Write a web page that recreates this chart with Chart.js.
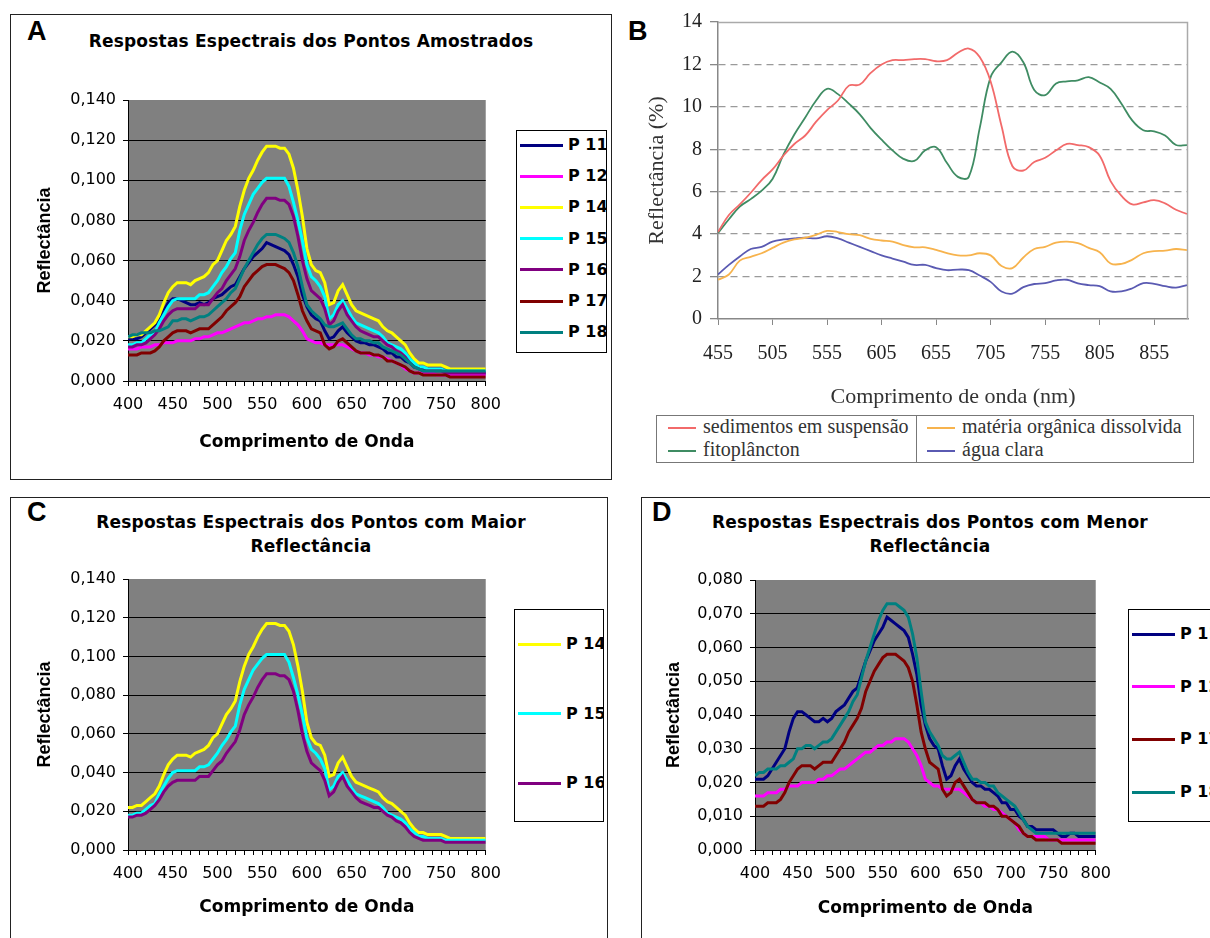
<!DOCTYPE html>
<html>
<head>
<meta charset="utf-8">
<script src="https://cdn.jsdelivr.net/npm/chart.js@4.4.1/dist/chart.umd.min.js"></script>
<style>
  body { margin: 0; background: #fff; }
  #page { position: relative; width: 1210px; height: 938px; overflow: hidden; background: #fff; }
  .box { position: absolute; border: 1px solid #222; }
  canvas { position: absolute; }
  .letter { position: absolute; font: bold 27px "Liberation Sans", Arial, sans-serif; line-height: 27px; color: #000; }
  .title { position: absolute; text-align: center; font: bold 17px "DejaVu Sans", sans-serif; line-height: 24px; letter-spacing: 0.2px; color: #000; white-space: nowrap; }
  .legend { position: absolute; border: 1px solid #000; background: #fff; overflow: hidden; }
  .legend .sw { position: absolute; height: 3px; }
  .legend .lb { position: absolute; font: bold 16px "DejaVu Sans", sans-serif; line-height: 16px; white-space: nowrap; color: #000; }
  #legB { position: absolute; left: 656px; top: 415px; width: 536px; height: 46px; border: 1.5px solid #777; background: #fff;
          font: 20px "Liberation Serif", "Times New Roman", serif; color: #333; }
  #legB .sep { position: absolute; left: 259px; top: 0; width: 0; height: 46px; border-left: 1.5px solid #777; }
  #legB .sw { position: absolute; height: 2px; }
  #legB .lb { position: absolute; line-height: 20px; white-space: nowrap; }
</style>
</head>
<body>
<div id="page">
  <div class="box" style="left:10px;top:14px;width:600px;height:464px"></div>
  <div class="box" style="left:10px;top:497px;width:596px;height:460px"></div>
  <div class="box" style="left:641px;top:497px;width:600px;height:460px"></div>

  <div class="letter" style="left:27px;top:18px">A</div>
  <div class="letter" style="left:628px;top:18px">B</div>
  <div class="letter" style="left:27px;top:499px">C</div>
  <div class="letter" style="left:652px;top:499px">D</div>

  <div class="title" style="left:11px;top:29px;width:600px">Respostas Espectrais dos Pontos Amostrados</div>
  <div class="title" style="left:11px;top:510px;width:600px">Respostas Espectrais dos Pontos com Maior<br>Reflectância</div>
  <div class="title" style="left:630px;top:510px;width:600px">Respostas Espectrais dos Pontos com Menor<br>Reflectância</div>

  <canvas id="cA" width="510" height="470" style="left:0;top:0"></canvas>
  <canvas id="cB" width="596" height="420" style="left:614px;top:0"></canvas>
  <canvas id="cC" width="510" height="448" style="left:0;top:490px"></canvas>
  <canvas id="cD" width="480" height="448" style="left:640px;top:490px"></canvas>

  <div class="legend" id="legA" style="left:516px;top:130px;width:89px;height:221px"></div>
  <div class="legend" id="legC" style="left:514px;top:609px;width:88px;height:211px"></div>
  <div class="legend" id="legD" style="left:1128px;top:609px;width:100px;height:211px"></div>
  <div id="legB"><div class="sep"></div></div>
</div>

<script>
// comprimentos de onda (nm) dos paineis A, C e D
const wl = [400,405,410,415,420,425,430,435,440,445,450,455,460,465,470,475,480,485,490,495,
            500,505,510,515,520,525,530,535,540,545,550,555,560,565,570,575,580,585,590,595,
            600,605,610,615,620,625,630,635,640,645,650,655,660,665,670,675,680,685,690,695,
            700,705,710,715,720,725,730,735,740,745,750,755,760,765,770,775,780,785,790,795,800];

// reflectancia dos pontos amostrados
const p11 = [.021,.021,.021,.022,.024,.026,.028,.030,.035,.039,.041,.041,.040,.039,.038,.038,.039,.038,.039,.041,
             .042,.043,.045,.047,.048,.052,.056,.059,.062,.064,.066,.069,.068,.067,.066,.065,.063,.058,.052,.043,
             .037,.033,.031,.030,.025,.021,.022,.025,.027,.024,.022,.020,.019,.019,.018,.018,.017,.016,.014,.014,
             .012,.012,.010,.009,.007,.007,.006,.006,.006,.006,.006,.005,.004,.004,.005,.005,.004,.004,.004,.004,.004];
const p12 = [.016,.016,.016,.017,.017,.017,.018,.018,.019,.019,.019,.020,.020,.020,.020,.021,.021,.022,.022,.023,
             .024,.024,.025,.026,.027,.028,.029,.029,.030,.031,.031,.032,.032,.033,.033,.033,.032,.030,.028,.025,
             .021,.020,.019,.019,.018,.018,.018,.018,.018,.017,.016,.015,.014,.014,.013,.013,.012,.012,.011,.010,
             .009,.008,.006,.005,.004,.004,.004,.004,.004,.003,.003,.003,.003,.003,.003,.003,.003,.003,.003,.003,.003];
const p14 = [.022,.022,.023,.023,.025,.027,.029,.033,.039,.044,.047,.049,.049,.049,.048,.050,.051,.052,.054,.058,
             .060,.065,.070,.073,.077,.087,.095,.101,.105,.110,.114,.117,.117,.117,.116,.116,.113,.106,.095,.082,
             .066,.058,.055,.054,.049,.038,.039,.045,.048,.043,.038,.035,.034,.033,.032,.031,.030,.027,.025,.024,
             .022,.020,.018,.014,.011,.009,.009,.008,.008,.008,.008,.007,.006,.006,.006,.006,.006,.006,.006,.006,.006];
const p15 = [.018,.018,.019,.019,.021,.023,.024,.029,.033,.037,.040,.041,.041,.041,.041,.041,.043,.043,.044,.047,
             .050,.054,.057,.061,.064,.075,.083,.088,.093,.096,.099,.101,.101,.101,.101,.101,.097,.089,.080,.070,
             .058,.052,.050,.047,.042,.031,.033,.038,.040,.036,.032,.029,.028,.027,.026,.025,.024,.022,.019,.018,
             .017,.016,.014,.011,.009,.007,.007,.006,.006,.006,.006,.005,.005,.005,.005,.005,.005,.005,.005,.005,.005];
const p16 = [.017,.017,.018,.018,.019,.021,.023,.026,.030,.033,.035,.036,.036,.036,.036,.036,.038,.038,.038,.041,
             .044,.046,.050,.053,.056,.062,.070,.075,.079,.084,.088,.091,.091,.091,.090,.090,.088,.082,.072,.060,
             .051,.045,.043,.041,.036,.028,.030,.035,.038,.033,.030,.027,.025,.024,.023,.022,.022,.020,.018,.017,
             .015,.014,.012,.009,.007,.006,.005,.005,.005,.005,.005,.004,.004,.004,.004,.004,.004,.004,.004,.004,.004];
const p17 = [.013,.013,.013,.014,.014,.014,.015,.017,.020,.022,.024,.025,.025,.025,.024,.025,.026,.026,.026,.028,
             .030,.032,.035,.037,.039,.042,.047,.050,.053,.055,.057,.058,.058,.058,.057,.056,.054,.050,.043,.035,
             .030,.026,.025,.024,.018,.016,.017,.020,.021,.019,.017,.015,.014,.014,.014,.013,.013,.012,.010,.010,
             .009,.008,.007,.005,.004,.004,.003,.003,.003,.003,.003,.003,.002,.002,.002,.002,.002,.002,.002,.002,.002];
const p18 = [.022,.023,.023,.024,.024,.024,.025,.025,.026,.027,.030,.030,.031,.031,.030,.031,.032,.032,.033,.035,
             .037,.039,.041,.044,.046,.051,.056,.060,.064,.068,.071,.073,.073,.073,.072,.071,.069,.064,.057,.047,
             .038,.035,.033,.031,.028,.027,.027,.028,.029,.026,.023,.021,.021,.020,.020,.019,.019,.017,.016,.015,
             .014,.013,.011,.009,.007,.006,.005,.005,.005,.005,.005,.005,.005,.005,.005,.005,.005,.005,.005,.005,.005];

const xLabels = [400, 450, 500, 550, 600, 650, 700, 750, 800];
const yTicksAC = [0, 0.02, 0.04, 0.06, 0.08, 0.10, 0.12, 0.14];
const yTicksD = [0, 0.01, 0.02, 0.03, 0.04, 0.05, 0.06, 0.07, 0.08];

const namesA = ['P 11', 'P 12', 'P 14', 'P 15', 'P 16', 'P 17', 'P 18'];
const seriesA = [p11, p12, p14, p15, p16, p17, p18];
const colorsA = ['#000080', '#ff00ff', '#ffff00', '#00ffff', '#800080', '#800000', '#008080'];
const namesC = ['P 14', 'P 15', 'P 16'];
const seriesC = [p14, p15, p16];
const colorsC = ['#ffff00', '#00ffff', '#800080'];
const namesD = ['P 11', 'P 12', 'P 17', 'P 18'];
const seriesD = [p11, p12, p17, p18];
const colorsD = ['#000080', '#ff00ff', '#800000', '#008080'];

// painel B: curvas tipicas (%)
const wlB = [455,465,475,485,495,505,515,525,535,545,555,565,575,585,595,605,615,625,635,645,655,
             665,675,685,695,705,715,725,735,745,755,765,775,785,795,805,815,825,835,845,855,865,875,885];
const sedimentos = [4.1,4.9,5.4,5.95,6.55,7.05,7.7,8.25,8.65,9.3,9.85,10.3,11.0,11.05,11.6,12.0,12.2,12.2,12.25,12.25,12.15,
                    12.2,12.55,12.75,12.35,11.2,9.1,7.2,7.0,7.4,7.6,7.95,8.25,8.2,8.1,7.7,6.5,5.8,5.4,5.5,5.6,5.45,5.15,4.95];
const fitoplancton = [4.05,4.7,5.3,5.65,6.05,6.6,7.75,8.7,9.5,10.3,10.85,10.6,10.15,9.65,9.0,8.45,7.95,7.55,7.45,7.95,8.1,
                      7.35,6.7,6.7,9.0,11.4,12.1,12.6,12.1,10.8,10.55,11.1,11.2,11.25,11.4,11.15,10.85,10.15,9.35,8.9,8.85,8.65,8.2,8.2];
const materiaOrganica = [1.85,2.1,2.75,2.93,3.1,3.35,3.6,3.75,3.83,3.97,4.15,4.1,4.0,3.95,3.78,3.7,3.65,3.48,3.38,3.38,3.26,
                         3.1,3.0,3.0,3.1,3.0,2.5,2.4,2.9,3.3,3.4,3.6,3.65,3.58,3.35,3.15,2.62,2.6,2.8,3.1,3.2,3.22,3.3,3.25];
const aguaClara = [2.1,2.55,2.95,3.3,3.4,3.65,3.75,3.8,3.83,3.8,3.9,3.8,3.6,3.4,3.2,3.0,2.85,2.7,2.55,2.55,2.4,
                   2.3,2.33,2.3,2.05,1.75,1.3,1.2,1.5,1.65,1.69,1.82,1.85,1.68,1.6,1.55,1.3,1.3,1.45,1.69,1.66,1.55,1.48,1.6];
const namesB = ['sedimentos em suspensão', 'fitoplâncton', 'matéria orgânica dissolvida', 'água clara'];
const seriesB = [sedimentos, fitoplancton, materiaOrganica, aguaClara];
const colorsB = ['#f26a6a', '#3f8c63', '#f7b34d', '#5a5ab2'];
const xTicksB = [455, 505, 555, 605, 655, 705, 755, 805, 855];
const yTicksB = [0, 2, 4, 6, 8, 10, 12, 14];

// fundo cinza da area de plotagem (estilo Excel)
const plotBg = {
    id: 'plotBg',
    beforeDraw(chart, args, opts) {
        if (!opts.color) return;
        const { ctx, chartArea: a } = chart;
        ctx.save();
        ctx.fillStyle = opts.color;
        ctx.fillRect(a.left, a.top, a.right - a.left, a.bottom - a.top);
        ctx.restore();
    }
};

// moldura cinza clara do painel B (topo e direita)
const frameB = {
    id: 'frameB',
    beforeDatasetsDraw(chart) {
        const { ctx, chartArea: a } = chart;
        ctx.save();
        ctx.strokeStyle = '#aaaaaa';
        ctx.lineWidth = 1.5;
        ctx.beginPath();
        ctx.moveTo(a.left, a.top + 0.5);
        ctx.lineTo(a.right - 0.5, a.top + 0.5);
        ctx.lineTo(a.right - 0.5, a.bottom);
        ctx.stroke();
        ctx.restore();
    }
};

function excelPanel(id, names, series, colors, yTicks, lay) {
    const yMax = yTicks[yTicks.length - 1];
    const xMarks = wl.filter(v => v % 10 === 0);
    const tickFont = { family: 'DejaVu Sans', size: 16 };
    new Chart(document.getElementById(id), {
        type: 'line',
        data: {
            datasets: names.map((n, i) => ({
                label: n,
                data: wl.map((x, j) => ({ x: x, y: series[i][j] })),
                borderColor: colors[i],
                borderWidth: 3,
                pointRadius: 0,
                tension: 0,
                fill: false,
                order: names.length - i
            }))
        },
        options: {
            responsive: false,
            animation: false,
            devicePixelRatio: 1,
            layout: { padding: { top: lay.top, right: lay.right, left: 0, bottom: 0 } },
            plugins: { legend: { display: false }, tooltip: { enabled: false }, plotBg: { color: '#808080' } },
            scales: {
                x: {
                    type: 'linear', min: 400, max: 800,
                    afterBuildTicks: s => { s.ticks = xMarks.map(v => ({ value: v })); },
                    afterFit: s => { s.height = lay.xh; },
                    grid: { drawOnChartArea: false, drawTicks: true, tickLength: 5, color: '#000', tickColor: '#000' },
                    border: { color: '#000', width: 1 },
                    ticks: { autoSkip: false, maxRotation: 0, padding: 9, color: '#000', font: tickFont,
                             callback: v => xLabels.indexOf(v) >= 0 ? String(v) : '' },
                    title: { display: true, text: 'Comprimento de Onda', color: '#000',
                             font: { family: 'DejaVu Sans', size: 17, weight: 'bold' }, padding: { top: 0, bottom: lay.xpad } }
                },
                y: {
                    type: 'linear', min: 0, max: yMax,
                    afterBuildTicks: s => { s.ticks = yTicks.map(v => ({ value: v })); },
                    afterFit: s => { s.width = lay.yw; },
                    grid: { color: c => (c.tick && c.tick.value === yMax) ? 'rgba(0,0,0,0)' : '#000',
                            tickColor: '#000', tickLength: 5, drawTicks: true },
                    border: { color: '#000', width: 1 },
                    ticks: { padding: 7, color: '#000', font: tickFont, callback: v => v.toFixed(3).replace('.', ',') },
                    title: { display: true, text: 'Reflectância', color: '#000',
                             font: { family: 'Liberation Sans', size: 18, weight: 'bold' }, padding: { top: lay.ypad, bottom: 0 } }
                }
            }
        },
        plugins: [plotBg]
    });
}

function buildLegend(id, names, colors, first, step) {
    const el = document.getElementById(id);
    names.forEach((n, i) => {
        const y = first + i * step;
        const sw = document.createElement('div');
        sw.className = 'sw';
        sw.style.cssText = `left:3px;width:43px;top:${y - 1.5}px;background:${colors[i]}`;
        const lb = document.createElement('div');
        lb.className = 'lb';
        lb.style.cssText = `left:51px;top:${y - 8}px`;
        lb.textContent = n;
        el.appendChild(sw);
        el.appendChild(lb);
    });
}

excelPanel('cA', namesA, seriesA, colorsA, yTicksAC, { top: 100, right: 22, xh: 89, xpad: 17, yw: 128, ypad: 34 });
excelPanel('cC', namesC, seriesC, colorsC, yTicksAC, { top: 89, right: 24, xh: 88, xpad: 20, yw: 128, ypad: 34 });
excelPanel('cD', namesD, seriesD, colorsD, yTicksD, { top: 90, right: 19, xh: 88, xpad: 19, yw: 115, ypad: 23 });

buildLegend('legA', namesA, colorsA, 14, 31.2);
buildLegend('legC', namesC, colorsC, 34, 69.5);
buildLegend('legD', namesD, colorsD, 24, 52.7);

// painel B
const serif = 'Liberation Serif';
new Chart(document.getElementById('cB'), {
    type: 'line',
    data: {
        datasets: namesB.map((n, i) => ({
            label: n,
            data: wlB.map((x, j) => ({ x: x, y: seriesB[i][j] })),
            borderColor: colorsB[i],
            borderWidth: 1.8,
            pointRadius: 0,
            tension: 0.4,
            fill: false
        }))
    },
    options: {
        responsive: false,
        animation: false,
        devicePixelRatio: 1,
        layout: { padding: { top: 22, right: 22, left: 0, bottom: 0 } },
        plugins: { legend: { display: false }, tooltip: { enabled: false } },
        scales: {
            x: {
                type: 'linear', min: 455, max: 886,
                afterBuildTicks: s => { s.ticks = xTicksB.map(v => ({ value: v })); },
                afterFit: s => { s.height = 101; },
                grid: { drawOnChartArea: false, drawTicks: true, tickLength: 6, tickColor: '#888', color: '#888' },
                border: { color: '#888', width: 1.5 },
                ticks: { autoSkip: false, maxRotation: 0, padding: 17, color: '#222', font: { family: serif, size: 20 } },
                title: { display: true, text: 'Comprimento de onda (nm)', color: '#333',
                         font: { family: serif, size: 22 }, padding: { top: 0, bottom: 10 } }
            },
            y: {
                type: 'linear', min: 0, max: 14,
                afterBuildTicks: s => { s.ticks = yTicksB.map(v => ({ value: v })); },
                afterFit: s => { s.width = 104; },
                grid: { color: c => (c.tick && (c.tick.value === 0 || c.tick.value === 14)) ? 'rgba(0,0,0,0)' : '#9a9a9a',
                        lineWidth: 1.3, tickColor: '#888', tickLength: 8, drawTicks: true },
                border: { color: '#888', width: 1.5, dash: [7, 5] },
                ticks: { padding: 8, color: '#222', font: { family: serif, size: 20 } },
                title: { display: true, text: 'Reflectância (%)', color: '#333',
                         font: { family: serif, size: 22 }, padding: { top: 30, bottom: 0 } }
            }
        }
    },
    plugins: [frameB]
});

// legenda do painel B (duas colunas: sedimentos/fitoplancton | materia organica/agua clara)
const legB = document.getElementById('legB');
const legPos = [[11, 12], [11, 35], [270, 12], [270, 35]];
namesB.forEach((n, i) => {
    const [x, y] = legPos[i];
    const sw = document.createElement('div');
    sw.className = 'sw';
    sw.style.cssText = `left:${x}px;width:28px;top:${y - 1}px;background:${colorsB[i]}`;
    const lb = document.createElement('div');
    lb.className = 'lb';
    lb.style.cssText = `left:${x + 35}px;top:${y - 12}px`;
    lb.textContent = n;
    legB.appendChild(sw);
    legB.appendChild(lb);
});
</script>
</body>
</html>
